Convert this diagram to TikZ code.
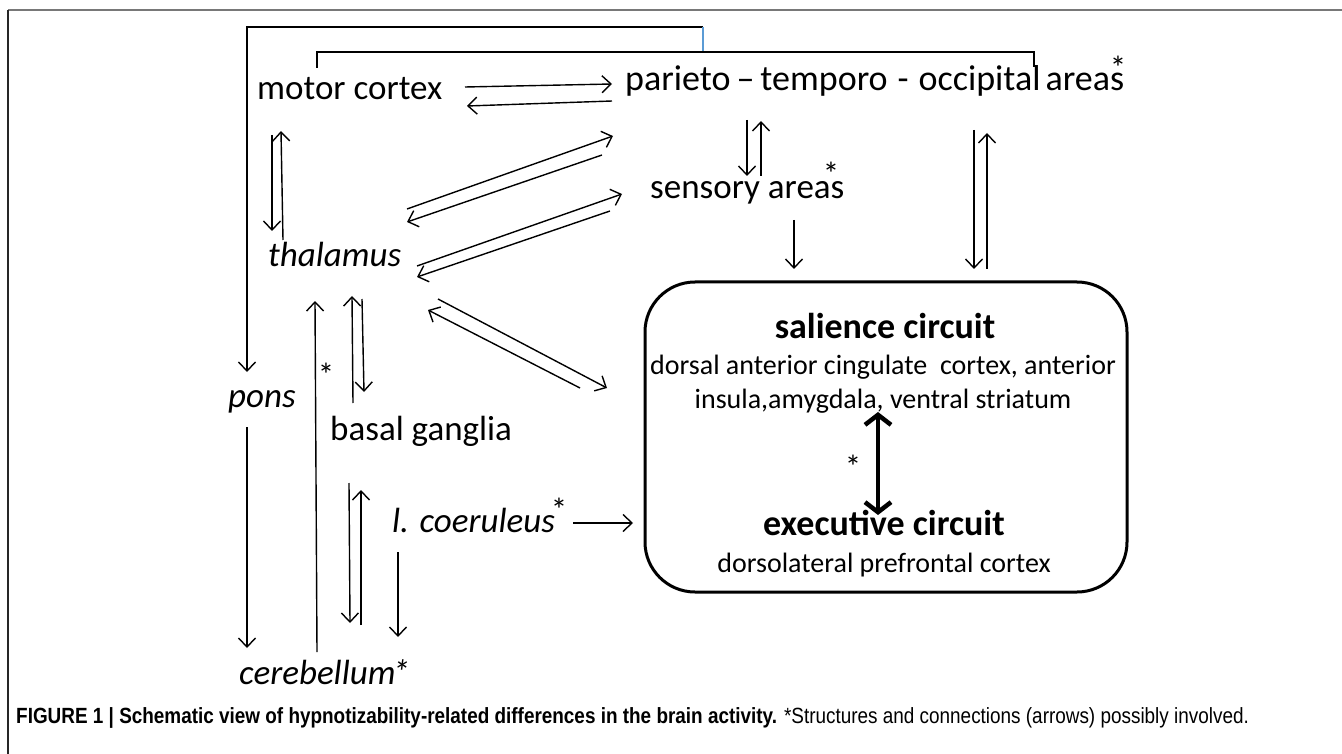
\documentclass[tikz,border=0pt]{standalone}
\usepackage{fontspec}
\setmainfont{Carlito}
\newfontfamily\capfont[FakeStretch=0.86]{Liberation Sans}
\usetikzlibrary{arrows.meta}
\definecolor{framegrey}{RGB}{120,120,120}
\definecolor{linkblue}{RGB}{91,155,213}
\begin{document}
\begin{tikzpicture}[x=1pt,y=-1pt,
  lbl/.style={font=\fontsize{35}{42}\selectfont, inner sep=0pt, anchor=base west},
  ilbl/.style={lbl, font=\fontsize{35}{42}\selectfont\itshape},
  ttl/.style={font=\fontsize{36}{42}\selectfont\bfseries, inner sep=0pt, anchor=base},
  sub/.style={font=\fontsize{28}{34}\selectfont, inner sep=0pt, anchor=base},
  star/.style={font=\fontsize{33}{40}\selectfont, inner sep=0pt},
  conn/.style={line width=1.4pt, -{Straight Barb[length=9pt,width=17pt,line width=1.4pt]}},
  plain/.style={line width=1.4pt},
  thick2/.style={line width=4.5pt, {Straight Barb[length=10pt,width=26pt,line width=4.5pt]}-{Straight Barb[length=10pt,width=26pt,line width=4.5pt]}}
]
\useasboundingbox (0,0) rectangle (1342,754);
\fill[white] (0,0) rectangle (1342,754);
% frame
\draw[framegrey, line width=2pt] (8,10) coordinate (ftl) -- (1342,10) coordinate (ftr);
\draw[black!85, line width=2pt] (ftl) -- (8,754) coordinate (fbl);

% labels
\node[lbl]  (motor) at (257,100) {motor cortex};
\node[lbl, font=\fontsize{36}{42}\selectfont]  (pto)   at (625,91)  {parieto\,–\,temporo\hspace{10pt}-\hspace{10pt}occipital\hspace{5pt}areas};
\node[star] (ptostar) at (1118,68) {*};
\node[lbl]  (sens)  at (650,199) {sensory areas};
\node[star] (sensstar) at (831,174) {*};
\node[ilbl] (thal)  at (268,267) {thalamus};
\node[ilbl] (pons)  at (228,407) {pons};
\node[lbl]  (basal) at (330,440) {basal ganglia};
\node[ilbl] (lc)    at (392,532) {l. coeruleus};
\node[star] (lcstar) at (559,510) {*};
\node[ilbl] (cereb) at (239,684) {cerebellum\kern-3pt*};
\node[star] (cstar) at (326,375) {*};

% circuit box
\node[draw, line width=3pt, rounded corners=50pt, minimum width=482pt, minimum height=310pt, inner sep=0pt] (box) at (886,437) {};
\node[ttl] (sal) at (885,338) {salience circuit};
\node[sub] (sal1) at (883,374) {dorsal anterior cingulate\ \ cortex, anterior};
\node[sub] (sal2) at (883,408) {insula,amygdala, ventral striatum};
\node[ttl] (exe) at (884,535) {executive circuit};
\node[sub] (exe1) at (884,572) {dorsolateral prefrontal cortex};
\draw[thick2] (878,412) coordinate (ta) -- (878,515) coordinate (tb);
\node[star] (boxstar) at (853,467) {*};

% top brackets
\coordinate (ponsIn) at (247,372);
\draw[conn] (703,27) coordinate (tc) -- (247,27) coordinate (tl) -- (ponsIn);
\draw[linkblue, line width=1.4pt] (tc) -- (703,52) coordinate (bc);
\draw[plain] (317,68) coordinate (bl) -- (317,52) -- (1034,52) -- (1034,67) coordinate (br);

% motor <-> parieto
\draw[conn] (465,87) -- (612,84);
\draw[conn] (612,101) -- (467,106);
% parieto <-> sensory
\draw[conn] (747,120) -- (747,176);
\draw[conn] (761,176) -- (761,121);
% sensory -> box
\draw[conn] (794,220) -- (794,269);
% occipital <-> box
\draw[conn] (974,130) -- (974,269);
\draw[conn] (987,269) -- (987,133);
% motor <-> thalamus
\draw[conn] (272,135) -- (272,231);
\draw[conn] (283,240) -- (281,131);
% thalamus <-> parieto
\draw[conn] (407,209) -- (613,136);
\draw[conn] (602,155) -- (407,222);
% thalamus <-> sensory
\draw[conn] (417,266) -- (622,194);
\draw[conn] (610,211) -- (417,277);
% thalamus <-> box
\draw[conn] (438,299) -- (607,388);
\draw[conn] (580,388) -- (428,310);
% thalamus <-> basal ganglia
\draw[conn] (353,403) -- (352,296);
\draw[conn] (362,299) -- (364,392);
% cerebellum -> thalamus
\draw[conn] (317,652) -- (315,301);
% pons -> cerebellum
\draw[conn] (247,427) -- (247,648);
% basal <-> cerebellum
\draw[conn] (349,483) -- (350,623);
\draw[conn] (361,625) -- (361,490);
% l. coeruleus -> box
\draw[conn] (573,523) -- (633,523);
% l. coeruleus -> down
\draw[conn] (398,552) -- (398,637);

% caption
\node[inner sep=0pt, anchor=base west, font=\capfont\fontsize{22}{26}\selectfont] (cap) at (16,723)
  {\textbf{FIGURE 1 | Schematic view of hypnotizability-related differences in the brain activity.} *Structures and connections (arrows) possibly involved.};
\end{tikzpicture}
\end{document}
